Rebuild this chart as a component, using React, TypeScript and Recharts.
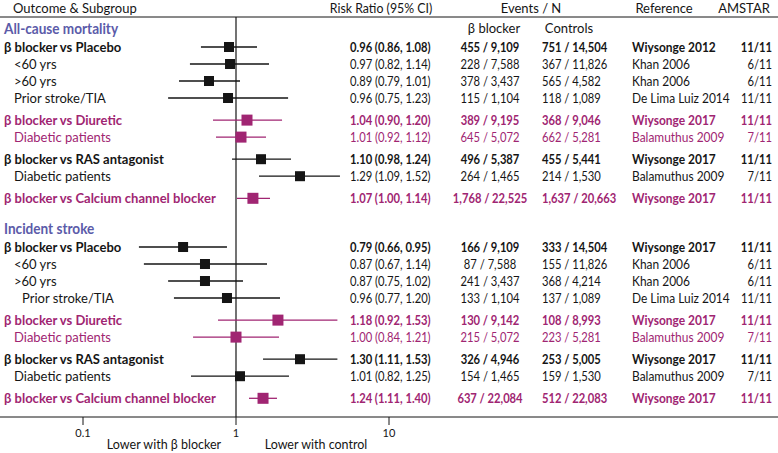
import { ScatterChart, Scatter, XAxis, YAxis, ErrorBar, ReferenceLine } from "recharts"

const W = 778
const H = 453
const PLOT_TOP = 17
const PLOT_BOTTOM = 417
const UNIT = 17 // px per row
const ONE_X = 236 // where RR = 1 sits
const PX_PER_DECADE = 153

const BLACK = "#151515"
const MAGENTA = "#a02572"
const BLUE = "#5b5ba9"

const sections = ["All-cause mortality", "Incident stroke"]

const rowSection = [0, 0, 0, 0, 0, 0, 0, 0, 0, 1, 1, 1, 1, 1, 1, 1, 1, 1]
const rowLevel = [0, 1, 1, 1, 0, 1, 0, 1, 0, 0, 1, 1, 2, 0, 1, 0, 1, 0]
const rowComparator = [
  "Placebo", "Placebo", "Placebo", "Placebo", "Diuretic", "Diuretic", "RAS", "RAS", "CCB",
  "Placebo", "Placebo", "Placebo", "Placebo", "Diuretic", "Diuretic", "RAS", "RAS", "CCB",
]
const rowLabels = [
  "β blocker vs Placebo", "<60 yrs", ">60 yrs", "Prior stroke/TIA",
  "β blocker vs Diuretic", "Diabetic patients",
  "β blocker vs RAS antagonist", "Diabetic patients",
  "β blocker vs Calcium channel blocker",
  "β blocker vs Placebo", "<60 yrs", ">60 yrs", "Prior stroke/TIA",
  "β blocker vs Diuretic", "Diabetic patients",
  "β blocker vs RAS antagonist", "Diabetic patients",
  "β blocker vs Calcium channel blocker",
]

// plotted marker / whisker values as drawn in the figure
const estimates = [0.9, 0.914, 0.666, 0.887, 1.18, 1.078, 1.457, 2.62, 1.29, 0.451, 0.627, 0.627, 0.873, 1.88, 1.0, 2.62, 1.062, 1.502]
const lowers = [0.59, 0.5, 0.424, 0.36, 0.707, 0.74, 0.942, 1.414, 1.015, 0.232, 0.25, 0.36, 0.393, 0.763, 0.524, 1.502, 0.508, 1.216]
const uppers = [1.372, 1.643, 1.062, 2.19, 2.0, 1.571, 2.288, 4.78, 1.668, 0.873, 1.595, 1.111, 1.94, 4.6, 1.91, 4.6, 2.22, 1.853]

const rrText = [
  "0.96 (0.86, 1.08)", "0.97 (0.82, 1.14)", "0.89 (0.79, 1.01)", "0.96 (0.75, 1.23)",
  "1.04 (0.90, 1.20)", "1.01 (0.92, 1.12)", "1.10 (0.98, 1.24)", "1.29 (1.09, 1.52)",
  "1.07 (1.00, 1.14)",
  "0.79 (0.66, 0.95)", "0.87 (0.67, 1.14)", "0.87 (0.75, 1.02)", "0.96 (0.77, 1.20)",
  "1.18 (0.92, 1.53)", "1.00 (0.84, 1.21)", "1.30 (1.11, 1.53)", "1.01 (0.82, 1.25)",
  "1.24 (1.11, 1.40)",
]
const bbEvents = [
  "455 / 9,109", "228 / 7,588", "378 / 3,437", "115 / 1,104", "389 / 9,195", "645 / 5,072",
  "496 / 5,387", "264 / 1,465", "1,768 / 22,525",
  "166 / 9,109", "87 / 7,588", "241 / 3,437", "133 / 1,104", "130 / 9,142", "215 / 5,072",
  "326 / 4,946", "154 / 1,465", "637 / 22,084",
]
const ctrlEvents = [
  "751 / 14,504", "367 / 11,826", "565 / 4,582", "118 / 1,089", "368 / 9,046", "662 / 5,281",
  "455 / 5,441", "214 / 1,530", "1,637 / 20,663",
  "333 / 14,504", "155 / 11,826", "368 / 4,214", "137 / 1,089", "108 / 8,993", "223 / 5,281",
  "253 / 5,005", "159 / 1,530", "512 / 22,083",
]
const references = [
  "Wiysonge 2012", "Khan 2006", "Khan 2006", "De Lima Luiz 2014", "Wiysonge 2017", "Balamuthus 2009",
  "Wiysonge 2017", "Balamuthus 2009", "Wiysonge 2017",
  "Wiysonge 2017", "Khan 2006", "Khan 2006", "De Lima Luiz 2014", "Wiysonge 2017", "Balamuthus 2009",
  "Wiysonge 2017", "Balamuthus 2009", "Wiysonge 2017",
]
const amstar = [
  "11/11", "6/11", "6/11", "11/11", "11/11", "7/11", "11/11", "7/11", "11/11",
  "11/11", "6/11", "6/11", "11/11", "11/11", "7/11", "11/11", "7/11", "11/11",
]

const xTicks = [0.1, 1, 10]

// row layout in row units (1 unit = UNIT px below the header rule)
const HEADER_GAP = 1.15
const BLOCK_GAP = 0.3
const SECTION_GAP = 1.715
const FIRST_ROW = 1.765

const rowPos: number[] = []
const headerPos: number[] = []
{
  let p = FIRST_ROW
  rowLabels.forEach((_, i) => {
    if (i > 0) {
      if (rowSection[i] !== rowSection[i - 1]) p += SECTION_GAP + HEADER_GAP
      else if (rowLevel[i] === 0) p += 1 + BLOCK_GAP
      else p += 1
    }
    if (i === 0 || rowSection[i] !== rowSection[i - 1]) headerPos[rowSection[i]] = p - HEADER_GAP
    rowPos.push(p)
  })
}

const colorOf = (i: number) =>
  rowComparator[i] === "Diuretic" || rowComparator[i] === "CCB" ? MAGENTA : BLACK

const points = rowLabels.map((_, i) => ({
  x: estimates[i],
  y: rowPos[i],
  err: [estimates[i] - lowers[i], uppers[i] - estimates[i]],
  color: colorOf(i),
}))
const blackPoints = points.filter((p) => p.color === BLACK)
const magentaPoints = points.filter((p) => p.color === MAGENTA)

const xDomain = [10 ** (-ONE_X / PX_PER_DECADE), 10 ** ((W - ONE_X) / PX_PER_DECADE)]
const yMax = (PLOT_BOTTOM - PLOT_TOP) / UNIT
const toPx = (pos: number) => PLOT_TOP + pos * UNIT

const Square = (size: number, fill: string) => (props: any) => {
  const { cx, cy } = props
  return <rect x={cx - size / 2} y={cy - size / 2} width={size} height={size} fill={fill} />
}

function T({
  x, y, children, anchor = "start", size = 13, weight = 400, fill = BLACK, sx = 1,
}: {
  x: number; y: number; children: any; anchor?: string; size?: number; weight?: number; fill?: string; sx?: number
}) {
  return (
    <text
      transform={`translate(${x},${y}) scale(${sx},1)`}
      textAnchor={anchor as any}
      dominantBaseline="central"
      fontSize={size}
      fontWeight={weight}
      fill={fill}
    >
      {children}
    </text>
  )
}

const NUM_SX = 0.89
const NUM_SIZE = 12.6

export default function App() {
  return (
    <div style={{ position: "fixed", left: 0, top: 0, width: W, height: H, background: "#fff" }}>
      <ScatterChart width={W} height={H} margin={{ top: PLOT_TOP, right: 0, bottom: 0, left: 0 }}>
        <XAxis
          dataKey="x"
          type="number"
          scale="log"
          domain={xDomain}
          allowDataOverflow
          ticks={xTicks}
          tickFormatter={(v) => String(v)}
          tickSize={8}
          tickMargin={4}
          height={H - PLOT_BOTTOM}
          axisLine={{ stroke: BLACK }}
          tickLine={{ stroke: BLACK }}
          tick={{ fill: BLACK, fontSize: 11, fontFamily: "Lato, sans-serif" }}
        />
        <YAxis dataKey="y" type="number" domain={[0, yMax]} reversed hide />
        <ReferenceLine y={0} stroke={BLACK} strokeWidth={1} />
        <ReferenceLine x={1} stroke={BLACK} strokeWidth={1.2} />
        <Scatter data={blackPoints} shape={Square(10, BLACK)} isAnimationActive={false}>
          <ErrorBar dataKey="err" direction="x" width={0} stroke={BLACK} strokeWidth={1.3} />
        </Scatter>
        <Scatter data={magentaPoints} shape={Square(11, MAGENTA)} isAnimationActive={false}>
          <ErrorBar dataKey="err" direction="x" width={0} stroke={MAGENTA} strokeWidth={1.3} />
        </Scatter>
      </ScatterChart>
      <svg
        width={W}
        height={H}
        style={{ position: "absolute", left: 0, top: 0, pointerEvents: "none", fontFamily: "Lato, sans-serif" }}
      >
        <T x={13} y={8}>Outcome &amp; Subgroup</T>
        <T x={381} y={8} anchor="middle" sx={0.95}>Risk Ratio (95% CI)</T>
        <T x={531} y={8} anchor="middle">Events / N</T>
        <T x={664} y={8} anchor="middle">Reference</T>
        <T x={744} y={8} anchor="middle">AMSTAR</T>
        <T x={494} y={28} anchor="middle">β blocker</T>
        <T x={569} y={28} anchor="middle">Controls</T>

        {sections.map((s, k) => (
          <T key={s} x={4} y={toPx(headerPos[k])} size={16} weight={700} fill={BLUE} sx={0.85}>
            {s}
          </T>
        ))}

        {rowLabels.map((label, i) => {
          const y = toPx(rowPos[i])
          const fill = colorOf(i)
          const weight = rowLevel[i] === 0 ? 700 : 400
          const indent = rowLevel[i] === 0 ? 4 : rowLevel[i] === 1 ? 14 : 22
          return (
            <g key={i}>
              <T x={indent} y={y} weight={weight} fill={fill}>{label}</T>
              <T x={350} y={y} weight={weight} fill={fill} size={NUM_SIZE} sx={NUM_SX}>{rrText[i]}</T>
              <T x={490} y={y} weight={weight} fill={fill} size={NUM_SIZE} sx={NUM_SX} anchor="middle">{bbEvents[i]}</T>
              <T x={542} y={y} weight={weight} fill={fill} size={NUM_SIZE} sx={NUM_SX}>{ctrlEvents[i]}</T>
              <T x={632} y={y} weight={weight} fill={fill} size={NUM_SIZE} sx={0.95}>{references[i]}</T>
              <T x={772} y={y} weight={weight} fill={fill} size={NUM_SIZE} sx={NUM_SX} anchor="end">{amstar[i]}</T>
            </g>
          )
        })}

        <T x={164} y={444} anchor="middle" size={12.5}>Lower with β blocker</T>
        <T x={316} y={444} anchor="middle" size={12.5}>Lower with control</T>
      </svg>
    </div>
  )
}
